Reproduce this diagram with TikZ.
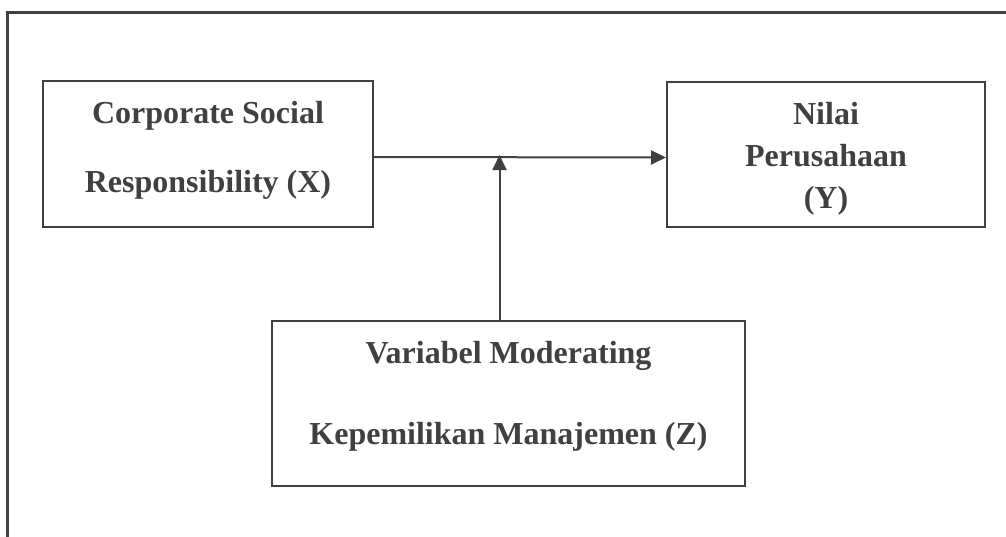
\documentclass[tikz,border=0pt]{standalone}
\usepackage{fontspec}
\setmainfont{Liberation Serif}
\usetikzlibrary{arrows.meta}
\definecolor{ink}{HTML}{404040}
\tikzset{
  varbox/.style={draw=ink,line width=2pt,rectangle,inner sep=0pt,align=center,text=ink,font=\bfseries},
  link/.style={draw=ink,line width=2pt,-{Triangle[length=15pt,width=14pt]}}
}
\begin{document}
\begin{tikzpicture}[x=1pt,y=-1pt]
\useasboundingbox (0,0) rectangle (1006,536);
\fill[white] (0,0) rectangle (1006,536);
\clip (0,0) rectangle (1006,536);
\draw[ink,line width=3pt] (7,600)--(7,12)--(1100,12);
\node[varbox,minimum width=330pt,minimum height=146pt,font=\bfseries\fontsize{32}{69}\selectfont] (csr) at (208,154) {Corporate Social\\Responsibility (X)\rule[-15pt]{0pt}{0pt}};
\node[varbox,minimum width=318pt,minimum height=145pt,font=\bfseries\fontsize{32}{42}\selectfont] (nilai) at (826,154.5) {\rule{0pt}{30pt}Nilai\\Perusahaan\\(Y)};
\node[varbox,minimum width=473pt,minimum height=165pt,font=\bfseries\fontsize{32}{81}\selectfont] (mod) at (508.5,403.5) {Variabel Moderating\\Kepemilikan Manajemen (Z)\rule[-21pt]{0pt}{0pt}};
\coordinate (join) at ([xshift=-9pt]mod.north |- csr.east);
\draw[link] ([yshift=-3pt]csr.east) -- ([yshift=-3pt]nilai.west);
\draw[link] ([xshift=-9pt]mod.north) -- ([yshift=-1pt]join);
\end{tikzpicture}
\end{document}
